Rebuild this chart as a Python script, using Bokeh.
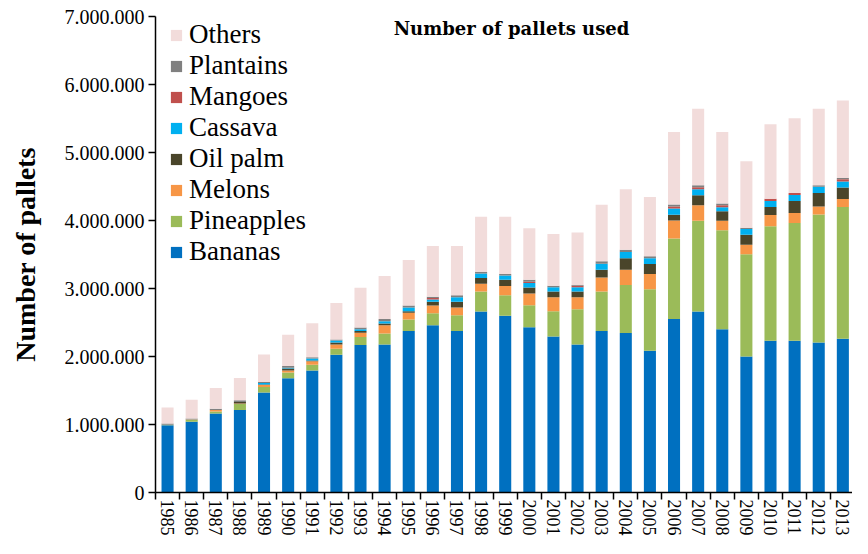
from bokeh.plotting import figure
from bokeh.models import FixedTicker, Legend, LegendItem, Label, ColumnDataSource, Range1d
from bokeh.embed import file_html
from bokeh.resources import INLINE

years = list(range(1985, 2014))
year_labels = [str(y) for y in years]

bananas = [990000, 1040000, 1160000, 1215000, 1470000, 1680000, 1795000, 2025000, 2170000, 2175000,
           2375000, 2460000, 2375000, 2660000, 2600000, 2430000, 2295000, 2175000, 2375000, 2345000,
           2085000, 2550000, 2660000, 2400000, 2000000, 2230000, 2230000, 2205000, 2260000]
pineapples = [5000, 30000, 30000, 85000, 80000, 85000, 85000, 90000, 115000, 165000,
              170000, 175000, 230000, 295000, 300000, 325000, 370000, 520000, 580000, 705000,
              905000, 1185000, 1335000, 1455000, 1505000, 1685000, 1735000, 1885000, 1940000]
melons = [0, 5000, 25000, 10000, 30000, 30000, 50000, 60000, 65000, 120000,
          100000, 115000, 115000, 115000, 135000, 170000, 205000, 175000, 205000, 225000,
          225000, 265000, 230000, 140000, 140000, 165000, 145000, 115000, 115000]
oil_palm = [0, 0, 0, 20000, 10000, 30000, 10000, 30000, 25000, 25000,
            20000, 55000, 85000, 85000, 95000, 90000, 85000, 85000, 115000, 170000,
            145000, 85000, 145000, 140000, 145000, 120000, 175000, 200000, 170000]
cassava = [0, 0, 0, 0, 20000, 10000, 30000, 30000, 25000, 35000,
           55000, 35000, 65000, 65000, 60000, 65000, 65000, 65000, 90000, 90000,
           85000, 90000, 90000, 60000, 85000, 85000, 90000, 90000, 90000]
mangoes = [0, 0, 0, 0, 0, 0, 0, 0, 0, 0,
           0, 20000, 0, 0, 0, 20000, 0, 20000, 0, 0,
           0, 30000, 30000, 30000, 0, 35000, 30000, 0, 30000]
plantains = [20000, 15000, 15000, 25000, 15000, 25000, 20000, 15000, 25000, 30000,
             30000, 20000, 30000, 25000, 25000, 30000, 20000, 10000, 35000, 35000,
             30000, 30000, 30000, 25000, 20000, 0, 0, 25000, 20000]
others = [235000, 275000, 305000, 330000, 405000, 460000, 500000, 535000, 585000, 635000,
          670000, 745000, 725000, 810000, 840000, 755000, 760000, 775000, 830000, 890000,
          870000, 1065000, 1125000, 1050000, 975000, 1095000, 1100000, 1125000, 1140000]

series_names = ["Bananas", "Pineapples", "Melons", "Oil palm", "Cassava", "Mangoes", "Plantains", "Others"]
series_values = [bananas, pineapples, melons, oil_palm, cassava, mangoes, plantains, others]
colors = ["#0070C0", "#9BBB59", "#F79646", "#4A452A", "#00B0F0", "#C0504D", "#808080", "#F2DCDB"]

y_ticks = [0, 1000000, 2000000, 3000000, 4000000, 5000000, 6000000, 7000000]
y_tick_labels = ["0", "1.000.000", "2.000.000", "3.000.000", "4.000.000", "5.000.000", "6.000.000", "7.000.000"]

title_text = "Number of pallets used"
y_title = "Number of pallets"

data = {"year": years}
for n, v in zip(series_names, series_values):
    data[n] = v
source = ColumnDataSource(data)

p = figure(width=852, height=538, output_backend="svg", toolbar_location=None,
           x_range=Range1d(years[0] - 0.5, years[-1] + 0.4), y_range=Range1d(0, 7000000),
           min_border_left=155, min_border_top=16, min_border_bottom=45, min_border_right=0)
p.outline_line_color = None
p.xgrid.visible = False
p.ygrid.visible = False

renderers = p.vbar_stack(series_names, x="year", width=0.5, color=colors, line_color=None, source=source)

# x axis
p.xaxis.ticker = FixedTicker(ticks=years, minor_ticks=[y - 0.5 for y in years])
p.xaxis.major_label_overrides = {y: l for y, l in zip(years, year_labels)}
p.xaxis.major_label_orientation = "vertical"
p.xaxis.major_label_text_font = "Liberation Serif"
p.xaxis.major_label_text_font_size = "18px"
p.xaxis.major_label_text_color = "#000000"
p.xaxis.major_tick_out = 0
p.xaxis.major_tick_in = 0
p.xaxis.minor_tick_out = 7
p.xaxis.minor_tick_in = 0
p.xaxis.minor_tick_line_color = "#000000"
p.xaxis.minor_tick_line_width = 1.5
p.xaxis.major_label_standoff = 0
p.xaxis.axis_line_color = "#000000"
p.xaxis.axis_line_width = 1.5

# y axis
p.yaxis.ticker = FixedTicker(ticks=y_ticks)
p.yaxis.major_label_overrides = {t: l for t, l in zip(y_ticks, y_tick_labels)}
p.yaxis.major_label_text_font = "Liberation Serif"
p.yaxis.major_label_text_font_size = "20px"
p.yaxis.major_label_text_color = "#000000"
p.yaxis.major_tick_out = 7
p.yaxis.major_tick_in = 0
p.yaxis.minor_tick_out = 0
p.yaxis.minor_tick_in = 0
p.yaxis.major_tick_line_color = "#000000"
p.yaxis.major_tick_line_width = 1.5
p.yaxis.major_label_standoff = 4
p.yaxis.axis_line_color = "#000000"
p.yaxis.axis_line_width = 1.5
p.yaxis.axis_label = y_title
p.yaxis.axis_label_text_font = "Liberation Serif"
p.yaxis.axis_label_text_font_style = "bold"
p.yaxis.axis_label_text_font_size = "28px"
p.yaxis.axis_label_text_color = "#000000"
p.yaxis.axis_label_standoff = 21

# legend (reverse order: Others on top)
items = [LegendItem(label=n, renderers=[r]) for n, r in zip(series_names, renderers)][::-1]
legend = Legend(items=items, location=(14, 225), border_line_color=None, background_fill_alpha=0,
                label_text_font="Liberation Serif", label_text_font_size="27px", label_text_color="#000000",
                glyph_width=14, glyph_height=14, label_height=31, spacing=0, padding=0, margin=0,
                label_standoff=6)
p.add_layout(legend)

title = Label(x=356, y=464, x_units="screen", y_units="screen", text=title_text,
              text_font="DejaVu Serif", text_font_style="bold", text_font_size="18px",
              text_align="center", text_baseline="middle", text_color="#000000")
p.add_layout(title)

open("out.html", "w").write(file_html(p, INLINE))
